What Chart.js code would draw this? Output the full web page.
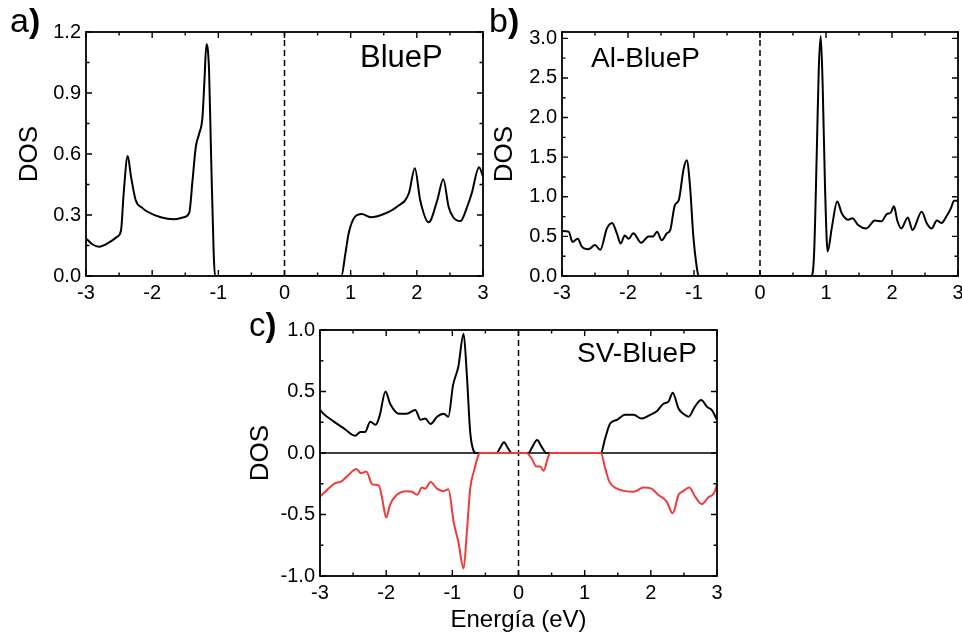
<!DOCTYPE html>
<html>
<head>
<meta charset="utf-8">
<script src="https://cdn.jsdelivr.net/npm/chart.js@4.4.1/dist/chart.umd.min.js"></script>
<style>
body{margin:0;background:#fff;width:962px;height:635px;position:relative;overflow:hidden;font-family:"Liberation Sans",Arial,sans-serif;}
canvas{position:absolute;}
.lbl{position:absolute;line-height:1;color:#000;white-space:nowrap;}
</style>
</head>
<body>
<canvas id="chartA" width="500" height="310" style="left:0;top:0"></canvas>
<canvas id="chartB" width="482" height="310" style="left:480px;top:0"></canvas>
<canvas id="chartC" width="500" height="335" style="left:230px;top:300px"></canvas>

<div class="lbl" style="left:10px;top:3px;font-size:34px">a<b>)</b></div>
<div class="lbl" style="left:489px;top:3px;font-size:34px">b<b>)</b></div>
<div class="lbl" style="left:249px;top:308px;font-size:33px">c<b>)</b></div>
<div class="lbl" style="left:360px;top:41px;font-size:31px">BlueP</div>
<div class="lbl" style="left:591px;top:44px;font-size:28px">Al-BlueP</div>
<div class="lbl" style="left:577px;top:339px;font-size:28px">SV-BlueP</div>

<script>
// energy axis, shared by the three panels
const xTicks = [-3, -2, -1, 0, 1, 2, 3];
const xMinor = [-2.5, -1.5, -0.5, 0.5, 1.5, 2.5];

// a) BlueP
const aE = [-3.00,-2.90,-2.80,-2.65,-2.53,-2.47,-2.43,-2.37,-2.32,-2.25,-2.15,-2.07,-1.87,-1.67,-1.52,-1.44,-1.39,-1.34,-1.29,-1.24,-1.21,-1.18,-1.14,-1.11,-1.07,-1.05,
            0.86,0.92,0.97,1.06,1.17,1.30,1.50,1.70,1.88,1.97,2.05,2.18,2.31,2.40,2.48,2.55,2.66,2.76,2.83,2.94,3.00];
const aDOS = [0.185,0.155,0.144,0.165,0.193,0.226,0.41,0.59,0.49,0.374,0.335,0.316,0.289,0.279,0.289,0.31,0.47,0.636,0.70,0.78,0.96,1.14,1.01,0.60,0.11,0.0,
              0.0,0.11,0.21,0.289,0.305,0.289,0.305,0.341,0.407,0.53,0.374,0.264,0.374,0.476,0.341,0.289,0.27,0.34,0.407,0.535,0.49];
const aTicksY = [0, 0.3, 0.6, 0.9, 1.2];
const aMinorY = [0.15, 0.45, 0.75, 1.05];

// b) Al-BlueP
const bE = [-3.00,-2.90,-2.84,-2.76,-2.70,-2.60,-2.50,-2.42,-2.32,-2.24,-2.17,-2.11,-2.05,-1.99,-1.92,-1.80,-1.69,-1.62,-1.56,-1.49,-1.41,-1.36,-1.29,-1.23,-1.16,-1.11,-1.06,-1.01,-0.96,-0.93,
            0.78,0.82,0.86,0.89,0.92,0.95,0.985,1.025,1.09,1.17,1.24,1.34,1.40,1.49,1.61,1.74,1.84,1.92,1.98,2.03,2.08,2.14,2.24,2.31,2.45,2.53,2.60,2.68,2.75,2.83,2.89,2.94,3.00];
const bDOS = [0.567,0.56,0.43,0.47,0.37,0.337,0.39,0.33,0.60,0.67,0.54,0.41,0.51,0.47,0.54,0.42,0.50,0.50,0.56,0.45,0.54,0.58,0.895,0.96,1.34,1.46,1.13,0.50,0.12,0.0,
              0.0,0.29,1.55,2.6,3.03,2.39,1.13,0.31,0.62,0.94,0.79,0.71,0.73,0.64,0.60,0.70,0.69,0.78,0.80,0.88,0.70,0.60,0.74,0.58,0.81,0.66,0.60,0.70,0.67,0.76,0.85,0.95,0.95];
const bTicksY = [0, 0.5, 1.0, 1.5, 2.0, 2.5, 3.0];
const bMinorY = [0.25, 0.75, 1.25, 1.75, 2.25, 2.75];

// c) SV-BlueP, spin up (black) and spin down (red)
const cUpE = [-3.00,-2.95,-2.79,-2.64,-2.47,-2.39,-2.32,-2.24,-2.16,-2.10,-2.01,-1.94,-1.81,-1.69,-1.56,-1.48,-1.41,-1.33,-1.23,-1.13,-1.06,-0.99,-0.91,-0.83,-0.78,-0.73,-0.68,-0.64,
              -0.33,-0.28,-0.22,-0.16,-0.10,0.15,0.21,0.28,0.35,0.42,
              1.245,1.31,1.385,1.49,1.61,1.74,1.86,1.99,2.09,2.19,2.27,2.33,2.42,2.49,2.57,2.67,2.76,2.85,2.92,3.00];
const cUp = [0.35,0.32,0.255,0.20,0.14,0.17,0.17,0.255,0.23,0.30,0.50,0.40,0.32,0.32,0.35,0.27,0.28,0.235,0.295,0.32,0.295,0.55,0.70,0.97,0.63,0.17,0.02,0.0,
             0.0,0.04,0.087,0.04,0.0,0.0,0.05,0.105,0.05,0.0,
             0.0,0.12,0.24,0.27,0.31,0.31,0.28,0.31,0.34,0.40,0.42,0.49,0.36,0.32,0.295,0.38,0.43,0.375,0.35,0.27];
const cDnE = [-3.00,-2.95,-2.77,-2.69,-2.59,-2.45,-2.38,-2.30,-2.21,-2.11,-2.06,-2.00,-1.94,-1.84,-1.69,-1.61,-1.53,-1.46,-1.41,-1.33,-1.23,-1.13,-1.06,-0.98,-0.91,-0.83,-0.78,-0.73,-0.67,-0.60,-0.58,
              0.12,0.20,0.27,0.33,0.38,0.44,0.48,
              1.245,1.31,1.375,1.49,1.61,1.74,1.89,2.01,2.11,2.24,2.33,2.42,2.49,2.58,2.67,2.77,2.87,2.95,3.00];
const cDn = [-0.355,-0.33,-0.245,-0.235,-0.19,-0.13,-0.165,-0.15,-0.255,-0.265,-0.37,-0.525,-0.42,-0.34,-0.31,-0.315,-0.34,-0.28,-0.29,-0.235,-0.29,-0.31,-0.295,-0.56,-0.72,-0.94,-0.64,-0.29,-0.14,-0.01,0.0,
             0.0,-0.045,-0.11,-0.11,-0.145,-0.045,0.0,
             0.0,-0.125,-0.235,-0.29,-0.31,-0.315,-0.28,-0.29,-0.34,-0.395,-0.49,-0.34,-0.31,-0.28,-0.355,-0.415,-0.36,-0.33,-0.26];
const cTicksY = [-1.0, -0.5, 0, 0.5, 1.0];
const cMinorY = [-0.75, -0.25, 0.25, 0.75];

const FONT = "'Liberation Sans', Arial, sans-serif";

function pairs(xs, ys){
    return xs.map((x, i) => ({x: x, y: ys[i]}));
}

function curve(xs, ys, color, order){
    return {
        data: pairs(xs, ys),
        borderColor: color,
        borderWidth: 2,
        cubicInterpolationMode: "monotone",
        pointRadius: 0,
        order: order
    };
}

function straight(xs, ys, dash, width, order){
    return {
        data: pairs(xs, ys),
        borderColor: "#000",
        borderWidth: width,
        borderDash: dash,
        tension: 0,
        pointRadius: 0,
        order: order
    };
}

// box with inward ticks on all four sides
const framePlugin = {
    id: "frame",
    afterDatasetsDraw(chart, args, opts){
        const ctx = chart.ctx;
        const a = chart.chartArea;
        const sx = chart.scales.x;
        const sy = chart.scales.y;
        ctx.save();
        ctx.strokeStyle = "#000";
        ctx.lineWidth = 1.8;
        ctx.strokeRect(a.left, a.top, a.right - a.left, a.bottom - a.top);
        ctx.lineWidth = 1.4;
        ctx.beginPath();
        function xt(v, len){
            const p = sx.getPixelForValue(v);
            ctx.moveTo(p, a.bottom); ctx.lineTo(p, a.bottom - len);
            ctx.moveTo(p, a.top); ctx.lineTo(p, a.top + len);
        }
        function yt(v, len){
            const p = sy.getPixelForValue(v);
            ctx.moveTo(a.left, p); ctx.lineTo(a.left + len, p);
            ctx.moveTo(a.right, p); ctx.lineTo(a.right - len, p);
        }
        xTicks.forEach(v => xt(v, 6));
        xMinor.forEach(v => xt(v, 3.5));
        opts.yTicks.forEach(v => yt(v, 6));
        opts.yMinor.forEach(v => yt(v, 3.5));
        ctx.stroke();
        ctx.restore();
    }
};

function renderPanel(id, datasets, yMin, yMax, yTicks, yMinor, box){
    new Chart(document.getElementById(id), {
        type: "line",
        data: {datasets: datasets},
        options: {
            responsive: false,
            animation: false,
            events: [],
            layout: {padding: {left: 0, top: box.top, right: box.right, bottom: 0}},
            plugins: {
                legend: {display: false},
                tooltip: {enabled: false},
                frame: {yTicks: yTicks, yMinor: yMinor}
            },
            scales: {
                x: {
                    type: "linear",
                    min: -3,
                    max: 3,
                    grid: {display: false, drawTicks: false},
                    border: {display: false},
                    afterBuildTicks: s => { s.ticks = xTicks.map(v => ({value: v})); },
                    afterFit: s => { s.height = box.xh; s.paddingLeft = 0; s.paddingRight = 0; },
                    ticks: {
                        color: "#000",
                        font: {family: FONT, size: 20},
                        padding: 5,
                        maxRotation: 0,
                        autoSkip: false,
                        callback: v => String(v)
                    },
                    title: box.xTitle ? {
                        display: true,
                        text: box.xTitle,
                        color: "#000",
                        font: {family: FONT, size: 24},
                        padding: {top: 0, bottom: 0}
                    } : {display: false}
                },
                y: {
                    type: "linear",
                    min: yMin,
                    max: yMax,
                    grid: {display: false, drawTicks: false},
                    border: {display: false},
                    afterBuildTicks: s => { s.ticks = yTicks.map(v => ({value: v})); },
                    afterFit: s => { s.width = box.yw; s.paddingTop = 0; s.paddingBottom = 0; },
                    ticks: {
                        color: "#000",
                        font: {family: FONT, size: 20},
                        padding: 5,
                        autoSkip: false,
                        callback: v => v.toFixed(1)
                    },
                    title: {
                        display: true,
                        text: "DOS",
                        color: "#000",
                        font: {family: FONT, size: 26},
                        padding: {top: box.yTitlePad, bottom: 0}
                    }
                }
            }
        },
        plugins: [framePlugin]
    });
}

renderPanel("chartA",
    [
        curve(aE, aDOS, "#000", 0),
        straight([0, 0], [0, 1.2], [6, 4], 1.5, 1)
    ],
    0, 1.2, aTicksY, aMinorY,
    {top: 32, right: 17, yw: 86, xh: 34, yTitlePad: 14}
);

renderPanel("chartB",
    [
        curve(bE, bDOS, "#000", 0),
        straight([0, 0], [0, 3.08], [6, 4], 1.5, 1)
    ],
    0, 3.08, bTicksY, bMinorY,
    {top: 32, right: 4, yw: 82, xh: 34, yTitlePad: 9}
);

renderPanel("chartC",
    [
        curve(cDnE, cDn, "#ef3b3b", 0),
        curve(cUpE, cUp, "#000", 1),
        straight([-3, 3], [0, 0], [], 1.3, 2),
        straight([0, 0], [-1, 1], [6, 4], 1.5, 3)
    ],
    -1, 1, cTicksY, cMinorY,
    {top: 30, right: 13, yw: 90, xh: 59, yTitlePad: 15, xTitle: "Energía (eV)"}
);
</script>
</body>
</html>
